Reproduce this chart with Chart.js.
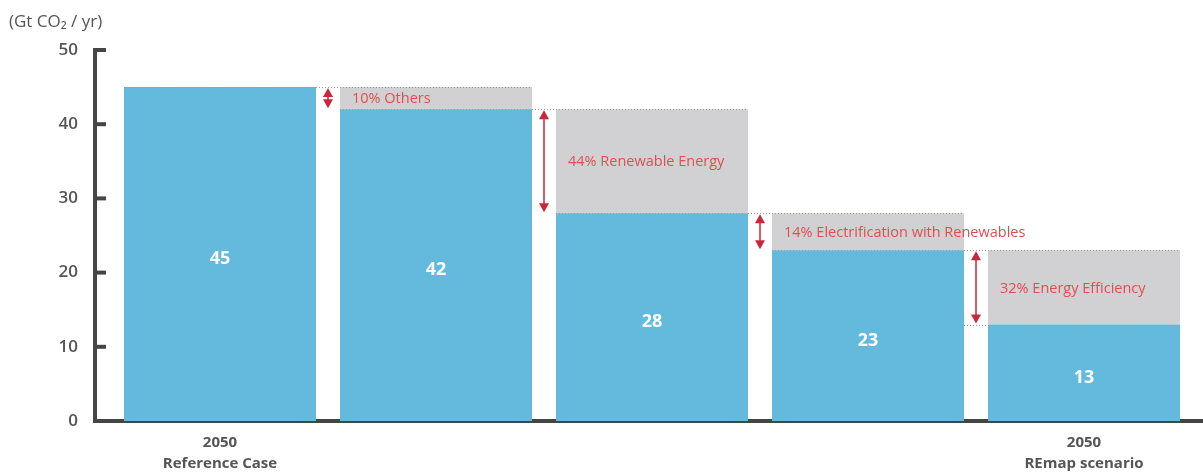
<!DOCTYPE html>
<html>
<head>
<meta charset="utf-8">
<script src="https://cdn.jsdelivr.net/npm/chart.js@4.4.0/dist/chart.umd.min.js"></script>
<style>
html,body{margin:0;padding:0;background:#fff;}
#wrap{width:1203px;height:472px;position:relative;}
</style>
</head>
<body>
<div id="wrap"><canvas id="c" width="1203" height="472"></canvas></div>
<script>
// ---- data ----
const positions = [0, 1, 2, 3, 4];
const emissions = [45, 42, 28, 23, 13];
const xLabels = [["2050", "Reference Case"], "", "", "", ["2050", "REmap scenario"]];
const reductionLabels = ["", "10% Others", "44% Renewable Energy", "14% Electrification with Renewables", "32% Energy Efficiency"];
const yTicks = [0, 10, 20, 30, 40, 50];
const yTitle = "(Gt CO\u2082 / yr)";

const BLUE = "#63badd";
const GREY = "#d1d1d3";
const RED = "#c8283a";
const RED_TXT = "#e04e50";
const AXIS = "#454545";
const TXT = "#555555";
const FONT = "'Open Sans', 'Noto Sans', sans-serif";

const blueData = positions.map((x, i) => ({x: x, y: emissions[i]}));
const greyData = positions.slice(1).map((x, k) => ({x: x, y: [emissions[k + 1], emissions[k]]}));

const overlay = {
  id: "overlay",
  afterDatasetsDraw(chart) {
    const ctx = chart.ctx;
    const ys = chart.scales.y;
    const bars = chart.getDatasetMeta(0).data;
    const half = bars[0].width / 2;
    ctx.save();
    // dotted level lines
    ctx.strokeStyle = "#9a9a9a";
    ctx.lineWidth = 1;
    ctx.setLineDash([1, 2]);
    for (let i = 0; i < emissions.length; i++) {
      const y = Math.round(ys.getPixelForValue(emissions[i])) + 0.5;
      const x0 = i + 1 < bars.length ? bars[i].x - half : bars[i - 1].x + half;
      const x1 = i + 1 < bars.length ? bars[i + 1].x + half : bars[i].x + half;
      ctx.beginPath(); ctx.moveTo(x0, y); ctx.lineTo(x1, y); ctx.stroke();
    }
    ctx.setLineDash([]);
    // value labels
    ctx.fillStyle = "#ffffff";
    ctx.font = "bold 18px " + FONT;
    ctx.textAlign = "center";
    ctx.textBaseline = "middle";
    for (let i = 0; i < emissions.length; i++) {
      ctx.fillText(String(emissions[i]), bars[i].x, ys.getPixelForValue(emissions[i] / 2) + 5);
    }
    // arrows + reduction labels
    for (let i = 1; i < emissions.length; i++) {
      const gx = (bars[i - 1].x + half + bars[i].x - half) / 2;
      const yTop = ys.getPixelForValue(emissions[i - 1]) + 1;
      const yBot = ys.getPixelForValue(emissions[i]) - 1;
      const hl = Math.min(9, (yBot - yTop) / 2);
      ctx.strokeStyle = RED; ctx.fillStyle = RED; ctx.lineWidth = 1.5;
      ctx.beginPath(); ctx.moveTo(gx, yTop + hl - 1); ctx.lineTo(gx, yBot - hl + 1); ctx.stroke();
      ctx.beginPath(); ctx.moveTo(gx, yTop); ctx.lineTo(gx - 5, yTop + hl); ctx.lineTo(gx + 5, yTop + hl); ctx.closePath(); ctx.fill();
      ctx.beginPath(); ctx.moveTo(gx, yBot); ctx.lineTo(gx - 5, yBot - hl); ctx.lineTo(gx + 5, yBot - hl); ctx.closePath(); ctx.fill();
      ctx.fillStyle = RED_TXT;
      ctx.font = "14.5px " + FONT;
      ctx.textAlign = "left";
      ctx.textBaseline = "middle";
      ctx.fillText(reductionLabels[i], bars[i].x - half + 12, ys.getPixelForValue((emissions[i] + emissions[i - 1]) / 2) + 1);
    }
    // y inner tick marks
    ctx.strokeStyle = AXIS; ctx.lineWidth = 4;
    for (const t of yTicks) {
      if (t === 0) continue;
      const y = ys.getPixelForValue(t);
      ctx.beginPath(); ctx.moveTo(chart.chartArea.left, y); ctx.lineTo(chart.chartArea.left + 11, y); ctx.stroke();
    }
    // axis title
    ctx.fillStyle = TXT;
    ctx.font = "17px " + FONT;
    ctx.textAlign = "left";
    ctx.textBaseline = "middle";
    ctx.fillText(yTitle, 9, 22);
    ctx.restore();
  }
};

new Chart(document.getElementById("c"), {
  type: "bar",
  data: {
    datasets: [
      {label: "Emissions", data: blueData, backgroundColor: BLUE, grouped: false, barPercentage: 192 / 216, categoryPercentage: 1, order: 1},
      {label: "Reduction", data: greyData, backgroundColor: GREY, grouped: false, barPercentage: 192 / 216, categoryPercentage: 1, order: 2}
    ]
  },
  options: {
    responsive: false,
    animation: false,
    layout: {padding: {top: 50, left: 0, right: 0, bottom: 0}},
    plugins: {legend: {display: false}, tooltip: {enabled: false}},
    scales: {
      x: {
        type: "linear",
        offset: false,
        min: -0.5787,
        max: 4.5509,
        afterBuildTicks: s => { s.ticks = positions.map(v => ({value: v})); },
        afterFit: s => { s.height = 51; },
        grid: {display: false, drawTicks: false},
        border: {display: true, color: AXIS, width: 4},
        ticks: {
          autoSkip: false, maxRotation: 0, padding: 12,
          color: TXT, font: {family: FONT, size: 15, weight: "bold", lineHeight: 1.35},
          callback: (v, i) => xLabels[i]
        }
      },
      y: {
        min: 0, max: 50,
        afterBuildTicks: s => { s.ticks = yTicks.map(v => ({value: v})); },
        afterFit: s => { s.width = 95; },
        grid: {display: false, drawTicks: false},
        border: {display: true, color: AXIS, width: 4},
        ticks: {padding: 17, color: TXT, font: {family: FONT, size: 17, weight: "600"}}
      }
    }
  },
  plugins: [overlay]
});
</script>
</body>
</html>
